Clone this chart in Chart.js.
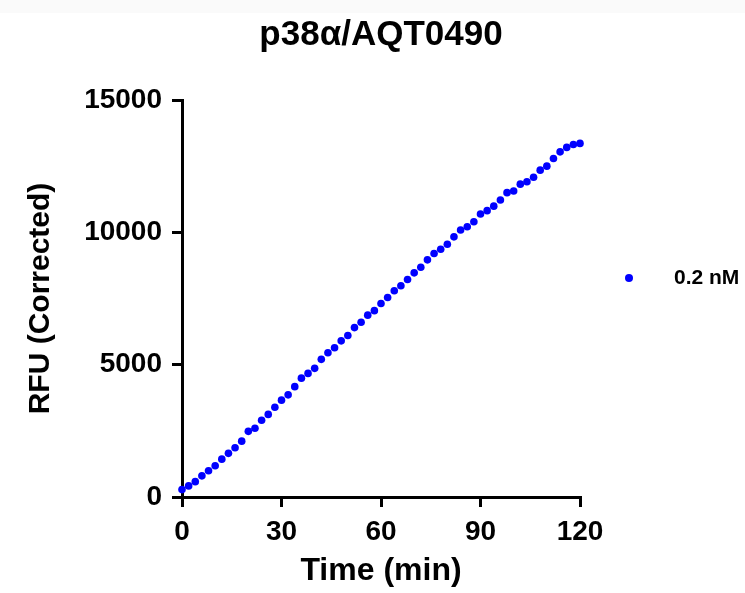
<!DOCTYPE html>
<html>
<head>
<meta charset="utf-8">
<script src="https://cdn.jsdelivr.net/npm/chart.js@4.4.0/dist/chart.umd.min.js"></script>
<style>
  html, body { margin: 0; padding: 0; }
  body {
    width: 745px; height: 593px;
    background: linear-gradient(to bottom, #fafafa 0, #fafafa 13px, #ffffff 13px);
  }
  #wrap { position: relative; width: 745px; height: 593px; }
</style>
</head>
<body>
<div id="wrap"><canvas id="rfuChart"></canvas></div>
<script>
// data
var chartTitle = 'p38\u03b1/AQT0490';
var seriesLabel = '0.2 nM';
var timeMin = [
  0, 2, 4, 6, 8, 10, 12, 14, 16, 18, 20, 22, 24, 26, 28, 30,
  32, 34, 36, 38, 40, 42, 44, 46, 48, 50, 52, 54, 56, 58, 60,
  62, 64, 66, 68, 70, 72, 74, 76, 78, 80, 82, 84, 86, 88, 90,
  92, 94, 96, 98, 100, 102, 104, 106, 108, 110, 112, 114, 116, 118, 120
];
var rfu = [
  280, 420, 580, 800, 990, 1180, 1430, 1650, 1860, 2110, 2480, 2600, 2900, 3120, 3390, 3660,
  3860, 4170, 4490, 4670, 4860, 5200, 5450, 5640, 5900, 6100, 6400, 6600, 6870, 7040, 7310,
  7540, 7790, 7980, 8220, 8470, 8680, 8960, 9200, 9360, 9550, 9830, 10090, 10210, 10400, 10690,
  10820, 10990, 11220, 11500, 11560, 11820, 11910, 12080, 12350, 12500, 12790, 13040, 13210, 13320, 13360
];
var xTicks = [0, 30, 60, 90, 120];
var yTicks = [0, 5000, 10000, 15000];

(function () {
  var FONT = '"Liberation Sans", Arial, sans-serif';
  var BLUE = '#0000ff';

  var points = timeMin.map(function (t, i) { return { x: t, y: rfu[i] }; });

  // plot title centred over the plot area + a right-hand legend
  var decor = {
    id: 'decor',
    afterDraw: function (chart) {
      var c = chart.ctx, a = chart.chartArea;
      c.save();
      c.fillStyle = '#000';
      c.textAlign = 'center';
      c.textBaseline = 'middle';
      c.font = 'bold 35px ' + FONT;
      c.fillText(chartTitle, (a.left + a.right) / 2, 35);

      var ds = chart.data.datasets[0];
      c.beginPath();
      c.arc(629, 278, 4, 0, Math.PI * 2);
      c.fillStyle = ds.backgroundColor;
      c.fill();
      c.fillStyle = '#000';
      c.textAlign = 'left';
      c.font = 'bold 21px ' + FONT;
      c.fillText(ds.label, 674, 278);
      c.restore();
    }
  };

  var axisGrid = {
    drawOnChartArea: false,
    drawTicks: true,
    tickLength: 10,
    color: '#000',
    lineWidth: 3
  };

  var plain = function (v) { return String(v); };

  new Chart(document.getElementById('rfuChart').getContext('2d'), {
    type: 'scatter',
    data: {
      datasets: [{
        label: seriesLabel,
        data: points,
        backgroundColor: BLUE,
        borderColor: BLUE,
        pointRadius: 3.8,
        pointBorderWidth: 0,
        clip: false
      }]
    },
    options: {
      responsive: true,
      maintainAspectRatio: false,
      animation: false,
      layout: { padding: { top: 100, right: 165, left: 0, bottom: 0 } },
      plugins: {
        legend: { display: false },
        tooltip: { enabled: false }
      },
      scales: {
        x: {
          type: 'linear',
          min: 0,
          max: 120,
          afterFit: function (s) { s.height = 96; },
          afterBuildTicks: function (s) { s.ticks = xTicks.map(function (v) { return { value: v }; }); },
          grid: axisGrid,
          border: { color: '#000', width: 3 },
          ticks: { color: '#000', padding: 8, callback: plain, font: { family: FONT, size: 28, weight: 'bold' } },
          title: {
            display: true,
            text: 'Time (min)',
            color: '#000',
            padding: { top: 0, bottom: 3 },
            font: { family: FONT, size: 32, weight: 'bold' }
          }
        },
        y: {
          min: 0,
          max: 15000,
          afterFit: function (s) { s.width = 182; },
          afterBuildTicks: function (s) { s.ticks = yTicks.map(function (v) { return { value: v }; }); },
          grid: axisGrid,
          border: { color: '#000', width: 3 },
          ticks: { color: '#000', padding: 10, callback: plain, font: { family: FONT, size: 28, weight: 'bold' } },
          title: {
            display: true,
            text: 'RFU (Corrected)',
            color: '#000',
            padding: { top: 23, bottom: 0 },
            font: { family: FONT, size: 30, weight: 'bold' }
          }
        }
      }
    },
    plugins: [decor]
  });
})();
</script>
</body>
</html>
